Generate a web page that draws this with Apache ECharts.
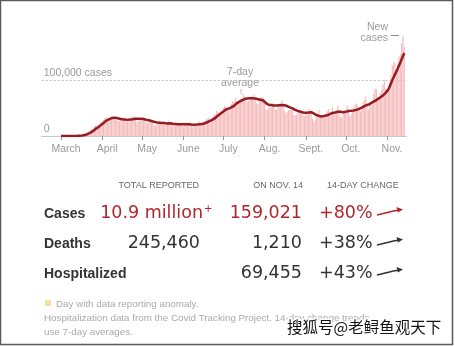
<!DOCTYPE html>
<html>
<head>
<meta charset="utf-8">
<script src="https://cdn.jsdelivr.net/npm/echarts@6/dist/echarts.min.js"></script>
<style>
html,body{margin:0;padding:0;background:#fff;}
#chart{width:455px;height:346px;}
</style>
</head>
<body>
<div id="chart"></div>
<script>
// Daily new US cases, in thousands, Mar 1 – Nov 14, 2020
const dailyCases = [
// March
0.0,0.0,0.0,0.0,0.1,0.1,0.1,0.1,0.2,0.3,0.4,0.5,0.6,0.8,0.9,1.3,1.9,2.8,4.5,5.8,7.0,8.5,11.0,10.8,12.5,17.5,18.7,20.0,19.5,21.5,25.4,
// April
27.0,28.5,32.0,33.5,27.5,29.0,33.0,34.5,35.0,34.5,30.5,27.5,26.5,27.0,30.5,31.5,33.0,30.0,27.5,25.5,27.5,29.5,31.5,36.0,34.0,28.5,24.5,26.5,27.5,29.0,
// May
29.5,33.0,28.0,24.0,23.0,25.0,28.5,27.5,25.5,20.0,18.5,22.0,21.5,27.0,25.5,24.5,19.5,22.0,21.0,21.5,27.5,23.5,22.0,19.5,19.0,18.5,19.5,21.5,23.5,23.0,20.5,
// June
17.5,20.0,20.5,20.5,23.0,23.5,18.5,17.0,18.0,20.5,22.5,24.0,25.5,21.0,19.5,23.0,26.5,28.0,31.0,32.0,27.0,28.5,33.5,37.5,39.0,45.5,43.0,41.5,40.5,44.5,
// July
50.0,54.0,52.0,47.5,44.5,47.5,58.0,62.0,60.5,67.5,62.0,58.0,60.5,66.0,68.0,75.5,71.0,63.0,60.5,62.5,66.5,70.5,70.0,73.5,66.0,58.5,56.5,64.5,68.5,70.0,68.0,
// August
57.0,48.0,46.0,51.5,53.5,57.5,58.5,54.0,47.0,47.0,53.5,56.0,53.0,64.0,53.0,45.0,40.0,43.5,46.5,46.0,48.0,46.5,37.5,37.0,38.0,44.0,46.0,46.0,43.0,36.5,35.5,
// September
41.0,43.5,44.5,48.5,43.0,31.0,25.5,28.0,33.5,35.5,46.5,37.0,33.5,34.5,38.5,40.0,44.5,47.5,41.5,36.5,51.5,39.5,38.5,45.5,55.0,47.5,35.0,33.0,41.5,44.0,
// October
45.5,54.5,49.0,35.5,38.5,43.0,51.0,56.0,58.0,54.5,46.5,44.0,52.5,60.0,64.0,70.0,56.0,47.0,60.5,60.5,63.5,76.0,85.0,84.0,63.5,70.0,76.0,82.0,92.0,100.5,85.0,
// November
78.0,90.0,96.0,108.0,126.0,132.0,130.0,112.0,126.0,142.0,146.0,165.0,180.0,159.0
];
// 7-day average of new cases, in thousands, Mar 1 – Nov 14, 2020
const avgCases = [
// March
0,0,0,0,0,0,0.1,0.1,0.1,0.2,0.2,0.3,0.3,0.4,0.5,0.7,0.9,1.2,1.8,2.5,3.4,4.5,5.8,7.2,8.6,10.7,12.7,14.3,15.7,17.3,19.4,
// April
21.3,23.3,25.4,27.4,28.6,29.8,30.9,31.8,32.5,32.8,32.7,32.2,31.6,30.9,30.3,29.9,29.7,29.5,29.2,28.8,29.1,29.4,29.6,30.0,30.6,30.9,31.1,31.0,30.9,30.6,
// May
30.4,30.2,29.6,29.1,28.7,28.1,27.3,26.8,26.2,25.3,24.6,24.3,24.0,23.8,23.5,23.2,23.0,23.0,22.8,22.5,22.9,22.6,22.3,21.9,21.6,21.5,21.0,20.8,20.8,21.0,21.1,
// June
21.2,21.1,21.0,20.8,21.1,21.0,20.6,20.5,20.2,20.2,20.4,20.4,20.9,21.2,21.5,22.1,22.8,23.6,24.6,26.0,27.0,28.0,29.2,30.8,32.4,34.5,36.6,38.4,40.0,41.6,
// July
43.6,45.6,47.3,48.3,48.8,49.4,51.0,52.6,53.9,55.9,58.3,60.2,61.2,62.3,63.7,65.0,66.0,66.7,67.1,67.3,67.5,67.8,67.2,66.9,66.8,66.3,65.8,65.2,64.8,64.2,63.4,
// August
61.2,58.8,56.7,55.8,55.4,55.2,55.1,54.6,54.4,54.5,54.7,55.0,54.9,55.2,55.2,54.9,54.1,53.5,52.3,51.1,50.3,49.2,47.8,46.6,45.3,44.8,44.0,43.4,42.4,42.0,41.6,
// September
41.4,41.7,41.9,42.2,42.5,41.6,40.2,38.7,37.4,36.2,35.8,35.2,35.0,35.3,35.9,36.6,37.0,38.0,39.0,39.6,41.2,42.0,42.1,42.3,43.2,43.9,43.2,42.6,42.6,43.0,
// October
43.1,44.2,44.7,44.8,44.9,44.6,45.4,46.6,46.7,47.3,48.5,49.3,50.5,52.0,53.3,54.9,55.4,56.0,57.0,58.5,60.2,61.8,62.8,64.2,65.9,67.5,69.0,70.5,72.5,75.0,77.0,
// November
79.0,83.0,88.0,94.0,100.0,105.0,110.0,115.0,120.0,126.0,131.0,137.0,143.0,148.0
];
const monthLabels = ['March','April','May','June','July','Aug.','Sept.','Oct.','Nov.'];
const yTickLabels = {0: '0', 100: '100,000 cases'};

// Category days from Feb 16 through Nov 15, 2020
const startMs = Date.UTC(2020, 1, 16);
const dataStartMs = Date.UTC(2020, 2, 1);
const nDays = 274;
const categories = [];
for (let i = 0; i < nDays; i++) categories.push(new Date(startMs + i * 86400000).toISOString().slice(0, 10));
const offset = Math.round((dataStartMs - startMs) / 86400000);
const barData = categories.map((c, i) => { const k = i - offset; return (k >= 0 && k < dailyCases.length) ? dailyCases[k] : null; });
const lineData = categories.map((c, i) => { const k = i - offset; return (k >= 0 && k < avgCases.length) ? avgCases[k] : null; });

const isMonthStart = (idx, val) => { const d = categories[idx]; return d.slice(8) === '01' && d.slice(5, 7) >= '03'; };

const chart = echarts.init(document.getElementById('chart'), null, {renderer: 'canvas'});
const gray = '#9a9a9a';
const FONT = '"Liberation Sans", Arial, sans-serif';
const NUM = '"DejaVu Sans", sans-serif';

function arrow(y, color) {
  return [
    {type: 'bezierCurve', shape: {x1: 377, y1: y + 3, x2: 399, y2: y - 2, cpx1: 384, cpy1: y + 1.5, cpx2: 392, cpy2: y - 1},
     style: {stroke: color, lineWidth: 1.5, fill: null}, z: 10},
    {type: 'polygon', shape: {points: [[403, y - 2.6], [396.5, y - 5], [397.8, y + 0.5]]}, style: {fill: color}, z: 10}
  ];
}

const red = '#b1262c';
const dark = '#333333';

const graphics = [
  // frame
  {type: 'rect', shape: {x: 0.5, y: 0.5, width: 452, height: 344}, style: {fill: null, stroke: '#5a5a5a', lineWidth: 1.5}, z: 20},
  // annotations
  {type: 'text', style: {text: '7-day', x: 240, y: 72, align: 'center', verticalAlign: 'middle', font: '10.5px ' + FONT, fill: gray}},
  {type: 'text', style: {text: 'average', x: 240, y: 83, align: 'center', verticalAlign: 'middle', font: '10.5px ' + FONT, fill: gray}},
  {type: 'line', shape: {x1: 241, y1: 89, x2: 241, y2: 94}, style: {stroke: '#bbb', lineWidth: 1}},
  {type: 'text', style: {text: 'New', x: 388, y: 27, align: 'right', verticalAlign: 'middle', font: '10.5px ' + FONT, fill: gray}},
  {type: 'text', style: {text: 'cases', x: 388, y: 38, align: 'right', verticalAlign: 'middle', font: '10.5px ' + FONT, fill: gray}},
  {type: 'line', shape: {x1: 391, y1: 35.5, x2: 399, y2: 35.5}, style: {stroke: '#888', lineWidth: 1}},
  // table headers
  {type: 'text', style: {text: 'TOTAL REPORTED', x: 199, y: 186, align: 'right', verticalAlign: 'middle', font: '9px ' + FONT, fill: '#666'}},
  {type: 'text', style: {text: 'ON NOV. 14', x: 303, y: 186, align: 'right', verticalAlign: 'middle', font: '9px ' + FONT, fill: '#666'}},
  {type: 'text', style: {text: '14-DAY CHANGE', x: 327, y: 186, align: 'left', verticalAlign: 'middle', font: '9px ' + FONT, fill: '#666'}},
  // row labels
  {type: 'text', style: {text: 'Cases', x: 44, y: 214, align: 'left', verticalAlign: 'middle', font: 'bold 14px ' + FONT, fill: dark}},
  {type: 'text', style: {text: 'Deaths', x: 44, y: 244, align: 'left', verticalAlign: 'middle', font: 'bold 14px ' + FONT, fill: dark}},
  {type: 'text', style: {text: 'Hospitalized', x: 44, y: 274, align: 'left', verticalAlign: 'middle', font: 'bold 14px ' + FONT, fill: dark}},
  // totals
  {type: 'text', style: {text: '10.9 million', x: 203, y: 213, align: 'right', verticalAlign: 'middle', font: '17.5px ' + NUM, fill: red}},
  {type: 'text', style: {text: '+', x: 204, y: 209, align: 'left', verticalAlign: 'middle', font: '10px ' + NUM, fill: red}},
  {type: 'text', style: {text: '245,460', x: 200, y: 243, align: 'right', verticalAlign: 'middle', font: '17.5px ' + NUM, fill: dark}},
  // on Nov 14
  {type: 'text', style: {text: '159,021', x: 302, y: 213, align: 'right', verticalAlign: 'middle', font: '17.5px ' + NUM, fill: red}},
  {type: 'text', style: {text: '1,210', x: 302, y: 243, align: 'right', verticalAlign: 'middle', font: '17.5px ' + NUM, fill: dark}},
  {type: 'text', style: {text: '69,455', x: 302, y: 273, align: 'right', verticalAlign: 'middle', font: '17.5px ' + NUM, fill: dark}},
  // change
  {type: 'text', style: {text: '+80%', x: 319, y: 213, align: 'left', verticalAlign: 'middle', font: '17.5px ' + NUM, fill: red}},
  {type: 'text', style: {text: '+38%', x: 319, y: 243, align: 'left', verticalAlign: 'middle', font: '17.5px ' + NUM, fill: dark}},
  {type: 'text', style: {text: '+43%', x: 319, y: 273, align: 'left', verticalAlign: 'middle', font: '17.5px ' + NUM, fill: dark}},
  ...arrow(212, red), ...arrow(242, dark), ...arrow(272, dark),
  // footer
  {type: 'rect', shape: {x: 45, y: 300, width: 6, height: 6}, style: {fill: '#f5e0a3'}},
  {type: 'text', style: {text: 'Day with data reporting anomaly.', x: 56, y: 304, align: 'left', verticalAlign: 'middle', font: '9.8px ' + FONT, fill: '#aaa'}},
  {type: 'text', style: {text: 'Hospitalization data from the Covid Tracking Project. 14-day change trends', x: 44, y: 318.5, align: 'left', verticalAlign: 'middle', font: '9.8px ' + FONT, fill: '#aaa'}},
  {type: 'text', style: {text: 'use 7-day averages.', x: 44, y: 332, align: 'left', verticalAlign: 'middle', font: '9.8px ' + FONT, fill: '#aaa'}},
  // watermark
  {type: 'text', z: 30, style: {text: '搜狐号@老鲟鱼观天下', x: 287, y: 327, align: 'left', verticalAlign: 'middle', font: '15.5px "Noto Sans CJK SC", sans-serif', fill: '#111', stroke: '#fff', lineWidth: 3}}
];

chart.setOption({
  animation: false,
  backgroundColor: '#fff',
  grid: {left: 41.7, right: 48.7, top: 24, bottom: 210, containLabel: false},
  xAxis: {
    type: 'category',
    data: categories,
    boundaryGap: true,
    axisLine: {show: true, lineStyle: {color: '#c8c8c8', width: 1}},
    axisTick: {show: true, alignWithLabel: true, interval: isMonthStart, length: 4, lineStyle: {color: '#999'}},
    axisLabel: {
      interval: isMonthStart,
      margin: 8,
      color: gray,
      fontFamily: FONT,
      fontSize: 10.5,
      padding: [0, 0, 0, 10],
      formatter: (val) => monthLabels[parseInt(val.slice(5, 7), 10) - 3] || ''
    },
    splitLine: {show: false}
  },
  yAxis: {
    type: 'value',
    min: 0, max: 200, interval: 100,
    axisLine: {show: false},
    axisTick: {show: false},
    axisLabel: {
      inside: true, margin: 2, color: gray, fontFamily: FONT, fontSize: 10.5,
      verticalAlign: 'bottom', padding: [0, 0, 1, 0],
      formatter: (v) => yTickLabels[v] || ''
    },
    splitLine: {show: true, lineStyle: {type: [2, 2], width: 1, color: ['rgba(0,0,0,0)', '#c4c4c4', 'rgba(0,0,0,0)']}}
  },
  series: [
    {type: 'bar', data: barData, barWidth: 1.15, itemStyle: {color: '#f5bcbc'}, silent: true, z: 2},
    {type: 'line', data: lineData, showSymbol: false, connectNulls: false, lineStyle: {width: 2.5, color: '#951c21'}, silent: true, z: 3}
  ],
  graphic: graphics
});
</script>
</body>
</html>
